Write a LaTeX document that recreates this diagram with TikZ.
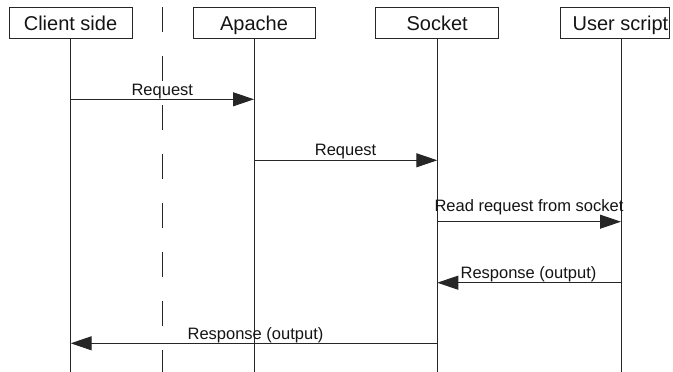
\documentclass[tikz,border=0pt]{standalone}
\usepackage{fontspec}
\setmainfont{Liberation Sans}
\usetikzlibrary{arrows.meta}
\tikzset{
  x=1pt, y=-1pt,
  ink/.style={draw=black!85, line width=1pt},
  actor/.style={ink, rectangle, minimum height=31pt, inner xsep=0pt, inner ysep=0pt,
    text height=14.5pt, text depth=0pt, font=\fontsize{20}{24}\selectfont, text=black!92},
  lifeline/.style={ink},
  divider/.style={ink, dash pattern=on 25pt off 24pt},
  msg/.style={ink, -{Triangle[length=21pt, width=14pt]}},
  msglabel/.style={anchor=base, inner sep=0pt, font=\fontsize{16.5}{19}\selectfont, text=black!92}
}
\begin{document}
\begin{tikzpicture}
\useasboundingbox (0,0) rectangle (673,372);
% actors
\node[actor, minimum width=123pt] (client) at (70.5,23) {Client side};
\node[actor, minimum width=122pt] (apache) at (254,23) {Apache};
\node[actor, minimum width=123pt] (socket) at (437.2,23) {Socket};
\node[actor, minimum width=109pt] (user) at (614.6,23) {\hspace*{11.7pt}User script};
% lifeline positions
\coordinate (clx) at (70.7,39);
\coordinate (apx) at (254,39);
\coordinate (sox) at (437.3,39);
\coordinate (usx) at (621,39);
\coordinate (bottom) at (0,372);
\draw[lifeline] (clx) -- (clx |- bottom);
\draw[lifeline] (apx) -- (apx |- bottom);
\draw[lifeline] (sox) -- (sox |- bottom);
\draw[lifeline] (usx) -- (usx |- bottom);
% dashed divider
\coordinate (divtop) at (162.3,7);
\draw[divider] (divtop) -- (divtop |- bottom);
% message rows
\coordinate (row1) at (0,99.3);
\coordinate (row2) at (0,160.3);
\coordinate (row3) at (0,221.7);
\coordinate (row4) at (0,282.7);
\coordinate (row5) at (0,343.3);
\draw[msg] (clx |- row1) -- (apx |- row1);
\draw[msg] (apx |- row2) -- (sox |- row2);
\draw[msg] (sox |- row3) -- (usx |- row3);
\draw[msg] (usx |- row4) -- (sox |- row4);
\draw[msg] (sox |- row5) -- (clx |- row5);
% labels
\node[msglabel] (l1) at (162.3,95) {Request};
\node[msglabel] (l2) at (345.6,155.5) {Request};
\node[msglabel] (l3) at (529,211) {Read request from socket};
\node[msglabel] (l4) at (528.5,278) {Response (output)};
\node[msglabel] (l5) at (255.5,339.5) {Response (output)};
\end{tikzpicture}
\end{document}
